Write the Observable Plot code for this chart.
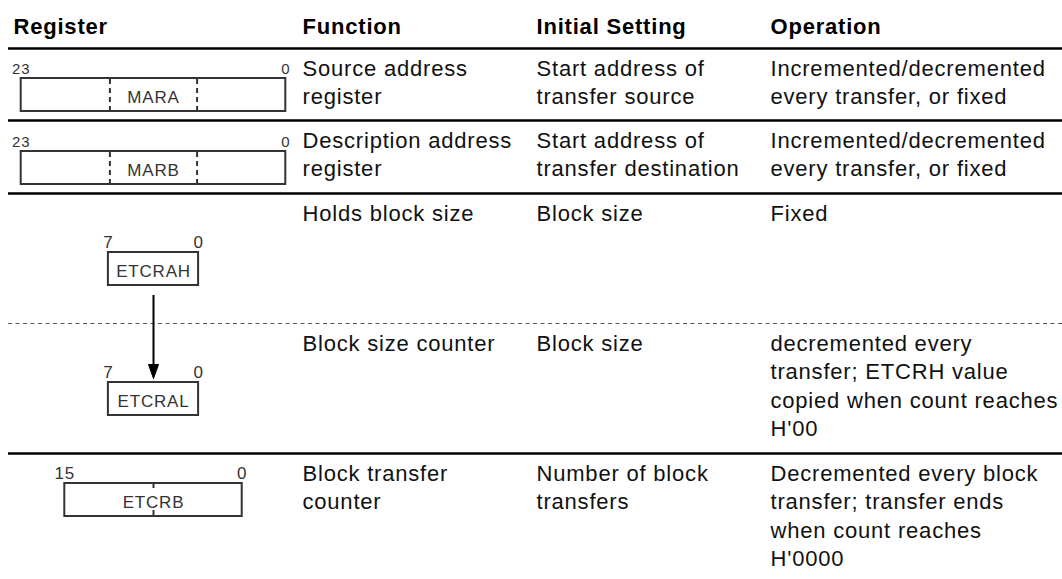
<!DOCTYPE html>
<html><head><meta charset="utf-8">
<script src="https://cdn.jsdelivr.net/npm/d3@7"></script>
<script src="https://cdn.jsdelivr.net/npm/@observablehq/plot@0.6"></script>
<style>body{margin:0;background:#fff}</style>
</head><body><div id="chart"></div>
<script>
// ---------- data ----------
const headers = ["Register", "Function", "Initial Setting", "Operation"];
const registers = ["MARA", "MARB", "ETCRAH", "ETCRAL", "ETCRB"];
const msbBits = [23, 23, 7, 7, 15];
const lsbBits = [0, 0, 0, 0, 0];
const functions = [
  ["Source address", "register"],
  ["Description address", "register"],
  ["Holds block size"],
  ["Block size counter"],
  ["Block transfer", "counter"]
];
const initialSettings = [
  ["Start address of", "transfer source"],
  ["Start address of", "transfer destination"],
  ["Block size"],
  ["Block size"],
  ["Number of block", "transfers"]
];
const operations = [
  ["Incremented/decremented", "every transfer, or fixed"],
  ["Incremented/decremented", "every transfer, or fixed"],
  ["Fixed"],
  ["decremented every", "transfer; ETCRH value", "copied when count reaches", "H'00"],
  ["Decremented every block", "transfer; transfer ends", "when count reaches", "H'0000"]
];
const copyLinks = [[2, 3]]; // ETCRAH -> ETCRAL

// ---------- layout ----------
const W = 1062, H = 579;
const FONT = "Liberation Sans, Arial, Helvetica, sans-serif";
const ruleY = [48, 120, 193, 323, 453];
const ruleKind = ["solid", "solid", "solid", "dashed", "solid"];
const ruleX1 = 8, ruleX2 = W;
const colX = [13, 302, 536, 770];
const headBase = 33;
const firstBase = 27, lineStep = 28.5;
const fs = 22;
const regCX = 153, bitW = 10.9, boxPad = 3, boxH = 33;
const boxOffset = [30, 31, 59, 59, 30];
const dividerKind = ["dashed", "dashed", "none", "none", "tick"];
const numFs = [15, 15, 17, 17, 17];
const nameFs = 17;

const capTop = (base, size) => base - 0.71 * size;

// header cells
const headCells = headers.map((t, c) => ({x: colX[c], y: capTop(headBase, fs), text: t}));

// body cells
const cols = [functions, initialSettings, operations];
const bodyCells = [];
cols.forEach((col, ci) => {
  col.forEach((lines, r) => {
    lines.forEach((t, i) => {
      bodyCells.push({x: colX[ci + 1], y: capTop(ruleY[r] + firstBase + i * lineStep, fs), text: t});
    });
  });
});

// rules
const rules = ruleY.map((y, i) => ({y, kind: ruleKind[i]}));

// register boxes
const boxes = registers.map((name, r) => {
  const bits = msbBits[r] - lsbBits[r] + 1;
  const w = bits * bitW + boxPad;
  const y1 = ruleY[r] + boxOffset[r];
  return {name, r, bits, x1: regCX - w / 2, x2: regCX + w / 2, y1, y2: y1 + boxH};
});
const numLabels = [];
boxes.forEach(b => {
  numLabels.push({x: b.x1, y: capTop(b.y1 - 5, numFs[b.r]), text: String(msbBits[b.r]), fs: numFs[b.r]});
  numLabels.push({x: b.x2, y: capTop(b.y1 - 5, numFs[b.r]), text: String(lsbBits[b.r]), fs: numFs[b.r]});
});
const nameLabels = boxes.map(b => ({x: regCX, y: capTop(b.y1 + 24, nameFs), text: b.name}));

const dashDividers = [], tickDividers = [];
boxes.forEach(b => {
  const kind = dividerKind[b.r];
  if (kind === "none") return;
  for (let k = 1; k < b.bits / 8; k++) {
    const x = b.x1 + boxPad / 2 + k * 8 * bitW;
    if (kind === "dashed") dashDividers.push({x, y1: b.y1 + 1, y2: b.y2 - 1});
    else {
      tickDividers.push({x, y1: b.y1, y2: b.y1 + 5});
      tickDividers.push({x, y1: b.y2 - 6, y2: b.y2});
    }
  }
});

// copy arrows
const shafts = [], heads = [];
copyLinks.forEach(([a, z], id) => {
  const from = boxes[a], to = boxes[z];
  const tipY = to.y1 - 4, headL = 14, headW = 5;
  shafts.push({x: regCX, y1: from.y2 + 10, y2: tipY - headL + 1});
  heads.push({id, x: regCX, y: tipY}, {id, x: regCX - headW, y: tipY - headL}, {id, x: regCX + headW, y: tipY - headL}, {id, x: regCX, y: tipY});
});

const plot = Plot.plot({
  width: W, height: H,
  margin: 0,
  x: {domain: [0, W], range: [0, W], axis: null},
  y: {domain: [0, H], range: [0, H], axis: null},
  style: `background:#fff;font-family:${FONT};letter-spacing:0.8px;`,
  marks: [
    Plot.ruleY(rules.filter(d => d.kind === "solid"), {y: "y", x1: ruleX1, x2: ruleX2, stroke: "#000", strokeWidth: 2.6}),
    Plot.ruleY(rules.filter(d => d.kind === "dashed"), {y: "y", x1: ruleX1, x2: ruleX2, stroke: "#555", strokeWidth: 1.2, strokeDasharray: "4,3.5"}),
    Plot.text(headCells, {x: "x", y: "y", text: "text", textAnchor: "start", lineAnchor: "top", fontSize: fs, fontWeight: "bold", fontFamily: FONT, fill: "#000"}),
    Plot.text(bodyCells, {x: "x", y: "y", text: "text", textAnchor: "start", lineAnchor: "top", fontSize: fs, fontFamily: FONT, fill: "#111"}),
    Plot.rect(boxes, {x1: "x1", x2: "x2", y1: "y1", y2: "y2", fill: "#fff", stroke: "#333", strokeWidth: 2}),
    Plot.ruleX(dashDividers, {x: "x", y1: "y1", y2: "y2", stroke: "#333", strokeWidth: 2, strokeDasharray: "5,4"}),
    Plot.ruleX(tickDividers, {x: "x", y1: "y1", y2: "y2", stroke: "#333", strokeWidth: 2}),
    Plot.text(nameLabels, {x: "x", y: "y", text: "text", textAnchor: "middle", lineAnchor: "top", fontSize: nameFs, fontFamily: FONT, fill: "#333"}),
    Plot.text(numLabels, {x: "x", y: "y", text: "text", textAnchor: "middle", lineAnchor: "top", fontSize: "fs", fontFamily: FONT, fill: "#333"}),
    Plot.ruleX(shafts, {x: "x", y1: "y1", y2: "y2", stroke: "#000", strokeWidth: 2}),
    Plot.line(heads, {x: "x", y: "y", z: "id", fill: "#000", stroke: "#000", strokeWidth: 1, curve: "linear"})
  ]
});
document.getElementById("chart").appendChild(plot);
</script>
</body></html>
